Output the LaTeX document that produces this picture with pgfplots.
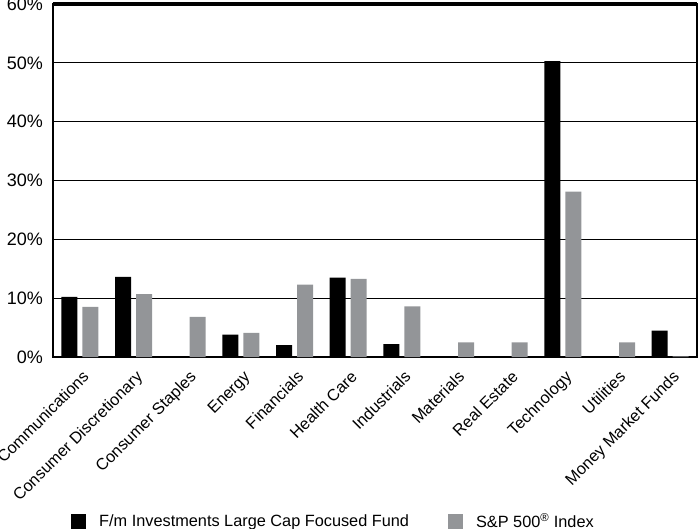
\documentclass[border=0pt]{standalone}
\usepackage{fontspec}
\setmainfont{Liberation Sans}
\usepackage{pgfplots}
\pgfplotsset{compat=1.18}
\definecolor{spgray}{HTML}{939598}

\begin{document}
\begin{tikzpicture}
\begin{axis}[
  name=ax,
  scale only axis,
  width=644pt, height=353pt,
  xmin=-0.5, xmax=11.5,
  ymin=0, ymax=60,
  ytick={0,10,20,30,40,50,60},
  yticklabels={0\%,10\%,20\%,30\%,40\%,50\%,60\%},
  ymajorgrids,
  major grid style={black, line width=1pt},
  extra y ticks={60},
  extra y tick labels={},
  extra y tick style={major grid style={black, line width=3.5pt}},
  axis line style={black, line width=1.8pt},
  major tick length=0pt,
  xtick={0,...,11},
  xticklabels={Communications, Consumer Discretionary, Consumer Staples, Energy, Financials, Health Care, Industrials, Materials, Real Estate, Technology, Utilities, Money Market Funds},
  x tick label style={font=\fontsize{16.3}{19}\selectfont, inner sep=0pt, anchor=base east, xshift=10pt, yshift=-21pt, rotate=45},
  y tick label style={font=\fontsize{18}{21}\selectfont, inner sep=0pt, anchor=east, xshift=-10pt},
  /pgf/number format/assume math mode=true,
  ybar=5pt, bar width=16pt,
  legend columns=2,
  legend style={draw=none, inner sep=0pt, at={(0.028,0)}, anchor=north west, yshift=-154pt,
    font=\fontsize{16.3}{19}\selectfont,
    /tikz/every odd column/.append style={column sep=11pt},
    /tikz/every even column/.append style={column sep=37pt}},
]
\addplot[fill=black, draw=none, legend image code/.code={\path[fill=black] (0pt,-7.5pt) rectangle (15pt,7.5pt);}]
  coordinates {(0,10.2) (1,13.6) (2,0) (3,3.8) (4,2.0) (5,13.5) (6,2.2) (7,0) (8,0) (9,50.3) (10,0) (11,4.5)};
\addplot[fill=spgray, draw=none, legend image code/.code={\path[fill=spgray] (0pt,-7.5pt) rectangle (15pt,7.5pt);}]
  coordinates {(0,8.5) (1,10.7) (2,6.8) (3,4.1) (4,12.3) (5,13.3) (6,8.6) (7,2.5) (8,2.5) (9,28.1) (10,2.5) (11,0.1)};
\legend{F/m Investments Large Cap Focused Fund, S\&P 500\textsuperscript{®} Index}
\end{axis}
\pgfresetboundingbox
\path[use as bounding box] ([xshift=-53pt,yshift=-172pt]ax.south west) rectangle ([xshift=3pt,yshift=4pt]ax.north east);
\end{tikzpicture}
\end{document}
